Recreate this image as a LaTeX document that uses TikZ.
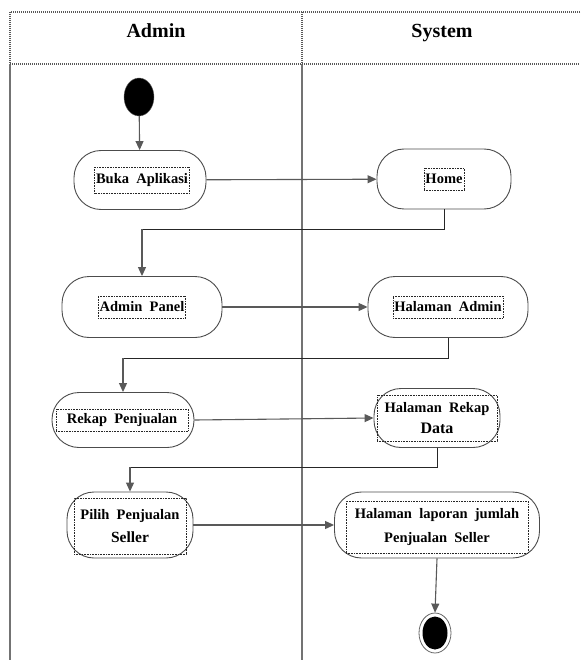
\documentclass[tikz,border=0pt]{standalone}
\usepackage{fontspec}
\setmainfont{Liberation Serif}
\usetikzlibrary{arrows.meta,shapes.geometric}
\begin{document}
\begin{tikzpicture}[x=1pt,y=-1pt,
  act/.style={draw=black!70, line width=0.9pt, rounded corners=27pt, minimum height=60pt},
  lbl/.style={draw=black!85, densely dotted, line width=0.6pt, font=\bfseries\fontsize{14.5}{16}\selectfont, inner sep=1.5pt, minimum height=22pt, align=center},
  flow/.style={draw=black!65, line width=1.1pt, -{Triangle[length=9pt,width=8pt]}},
  elbow/.style={draw=black!85, line width=0.9pt},
  lane/.style={draw=black!55, line width=1.2pt},
  hdr/.style={draw=black!65, line width=1.6pt, dash pattern=on 1pt off 1pt},
  htxt/.style={font=\bfseries\fontsize{20}{22}\selectfont, anchor=base}]
\useasboundingbox (0,0) rectangle (580,660);
% swimlanes
\draw[lane] (10,64) -- (10,660);
\draw[lane] (302,64) -- (302,660);
\draw[hdr] (580,12) -- (10,12) -- (10,64) -- (580,64);
\draw[hdr] (302,12) -- (302,64);
\node[htxt] (hA) at (156,38) {Admin};
\node[htxt] (hS) at (442,38) {System};
% start / end
\node[ellipse, fill=black, draw=black!60, minimum width=30pt, minimum height=38pt, inner sep=0pt] (start) at (139,97) {};
\node[ellipse, draw=black!60, line width=0.8pt, minimum width=32pt, minimum height=40pt, inner sep=0pt] (endo) at (435,633) {};
\node[ellipse, fill=black, minimum width=25pt, minimum height=33pt, inner sep=0pt] (endi) at (435,633) {};
% activities
\node[act, minimum width=132pt, minimum height=59pt] (buka) at (140,180) {};
\node[lbl, minimum height=26pt] (bukaL) at (142,180) {Buka\ \ Aplikasi};
\node[act, minimum width=134pt, minimum height=60pt] (home) at (444,179) {};
\node[lbl] (homeL) at (444,179) {Home};
\node[act, minimum width=160pt, minimum height=61pt] (admp) at (142,307) {};
\node[lbl] (admpL) at (142,307) {Admin\ \ Panel};
\node[act, minimum width=160pt, minimum height=61pt] (hadm) at (448,307) {};
\node[lbl] (hadmL) at (448,307) {Halaman\ \ Admin};
\node[act, minimum width=142pt, minimum height=55pt] (rekap) at (123,420) {};
\node[lbl, minimum width=132pt] (rekapL) at (122,420) {Rekap\ \ Penjualan};
\node[act, minimum width=126pt, minimum height=59pt] (hrek) at (437,418) {};
\node[lbl, minimum width=120pt, minimum height=46pt] (hrekL) at (437,418) {Halaman\ \ Rekap\\[5pt]{\fontsize{16}{17}\selectfont Data}};
\node[act, minimum width=126pt, minimum height=66pt] (pilih) at (130,525) {};
\node[lbl, minimum width=112pt, minimum height=56pt] (pilihL) at (130,526) {Pilih\ \ Penjualan\\[7pt]{\fontsize{15.5}{16}\selectfont Seller}};
\node[act, minimum width=205pt, minimum height=66pt] (hlap) at (437,525) {};
\node[lbl, minimum width=182pt, minimum height=52pt] (hlapL) at (437,527) {Halaman\ \ laporan\ \ jumlah\\[8pt]Penjualan\ \ Seller};
% connectors
\coordinate (y1) at (0,229);
\coordinate (y2) at (0,358);
\coordinate (y3) at (0,467);
\draw[flow] (start) -- (buka);
\draw[flow] (buka) -- (home);
\draw[elbow] (home.south) -- (home.south |- y1) -- (admp.north |- y1);
\draw[flow] (admp.north |- y1) -- (admp.north);
\draw[flow] (admp) -- (hadm);
\draw[elbow] (hadm.south) -- (hadm.south |- y2) -- (rekap.north |- y2);
\draw[flow] (rekap.north |- y2) -- (rekap.north);
\draw[flow] (rekap.east) -- (hrek.west);
\draw[elbow] (hrek.south) -- (hrek.south |- y3) -- (pilih.north |- y3);
\draw[flow] (pilih.north |- y3) -- (pilih.north);
\draw[flow] (pilih) -- (hlap);
\draw[flow] (hlap.south) -- (endo.north);
\end{tikzpicture}
\end{document}
